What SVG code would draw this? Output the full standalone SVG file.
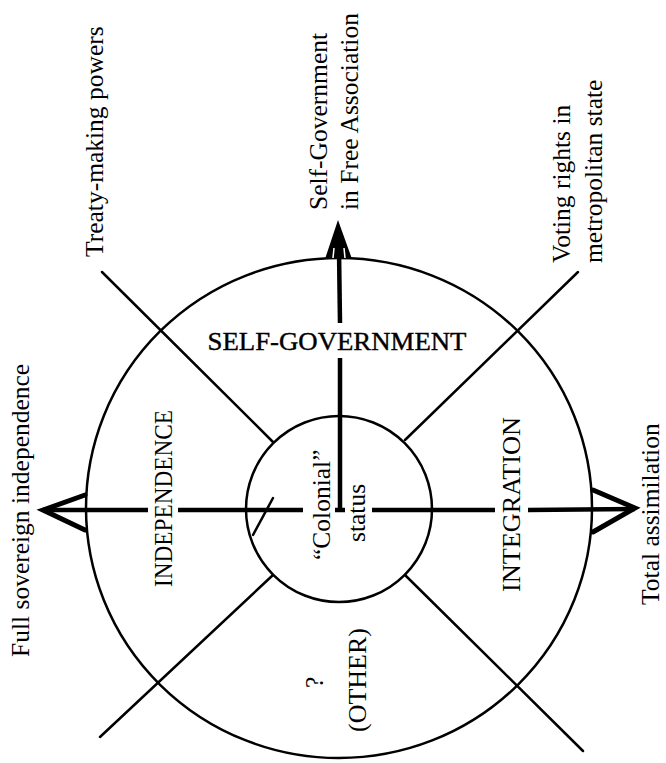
<svg xmlns="http://www.w3.org/2000/svg" width="666" height="763" viewBox="0 0 666 763">
<style>
.t{font-family:"Liberation Serif","Times New Roman",serif;fill:#000;font-size:25.5px}
.c{font-size:26px}
.thin{fill:none;stroke:#000;stroke-width:2.5;stroke-linecap:round}
.thick{fill:none;stroke:#000;stroke-width:4.5;stroke-linecap:butt}
.head{fill:none;stroke:#000;stroke-width:5;stroke-linejoin:miter;stroke-linecap:round}
</style>
<rect width="666" height="763" fill="#fff"/>
<g id="outer-circle"><ellipse class="thin" cx="339" cy="508" rx="253" ry="250"/></g>
<g id="inner-circle"><circle class="thin" cx="339" cy="509" r="93"/></g>
<g id="connectors">
  <line class="thin" x1="102" y1="272" x2="273" y2="442"/>
  <line class="thin" x1="578" y1="272" x2="405" y2="440"/>
  <line class="thin" x1="100" y1="737" x2="273" y2="575"/>
  <line class="thin" x1="583" y1="751" x2="405" y2="575"/>
  <line class="thin" x1="273" y1="498" x2="253" y2="535"/>
  <line class="thick" x1="340" y1="512" x2="340" y2="358"/>
  <line class="thick" x1="340" y1="323" x2="339" y2="250"/>
  <polygon points="338,220 325,259 352,259" fill="#000"/>
  <line x1="334" y1="248" x2="333" y2="258" stroke="#fff" stroke-width="1.5"/>
  <line x1="344" y1="248" x2="345" y2="258" stroke="#fff" stroke-width="1.5"/>
  <line class="thick" x1="43" y1="510" x2="148" y2="510"/>
  <line class="thick" x1="178" y1="510" x2="303" y2="510"/>
  <line class="thick" x1="335" y1="510" x2="345" y2="510"/>
  <line class="thick" x1="372" y1="510" x2="495" y2="510"/>
  <line class="thick" x1="528" y1="510" x2="635" y2="509"/>
  <polyline class="head" points="85,495 43,510 85,530"/>
  <polyline class="head" points="593,490 635,508 593,532"/>
</g>
<g id="label-full-sovereign"><text class="t" transform="translate(29,657) rotate(-90)">Full sovereign independence</text></g>
<g id="label-treaty"><text class="t" transform="translate(103,257) rotate(-90)">Treaty-making powers</text></g>
<g id="label-free-association">
  <text class="t" transform="translate(327,210) rotate(-90)">Self-Government</text>
  <text class="t" transform="translate(358,210) rotate(-90)">in Free Association</text>
</g>
<g id="label-voting">
  <text class="t" transform="translate(570,263) rotate(-90)">Voting rights in</text>
  <text class="t" transform="translate(602,263) rotate(-90)">metropolitan state</text>
</g>
<g id="label-total"><text class="t" transform="translate(659,605) rotate(-90)">Total assimilation</text></g>
<g id="sector-self-government"><text class="t c" x="337" y="350" text-anchor="middle" font-size="27" textLength="259" lengthAdjust="spacingAndGlyphs" stroke="#000" stroke-width="0.4">SELF-GOVERNMENT</text></g>
<g id="sector-independence"><text class="t c" transform="translate(172,587) rotate(-90)" textLength="177" lengthAdjust="spacingAndGlyphs">INDEPENDENCE</text></g>
<g id="sector-integration"><text class="t c" transform="translate(520,592) rotate(-90)" textLength="175" lengthAdjust="spacingAndGlyphs">INTEGRATION</text></g>
<g id="sector-other">
  <text class="t" font-size="22" transform="translate(323,688) rotate(-90)">?</text>
  <text class="t c" transform="translate(366,732) rotate(-90)">(OTHER)</text>
</g>
<g id="center-colonial">
  <text class="t" transform="translate(330,560) rotate(-90)">“Colonial”</text>
  <text class="t" transform="translate(365,542) rotate(-90)">status</text>
</g>
</svg>
